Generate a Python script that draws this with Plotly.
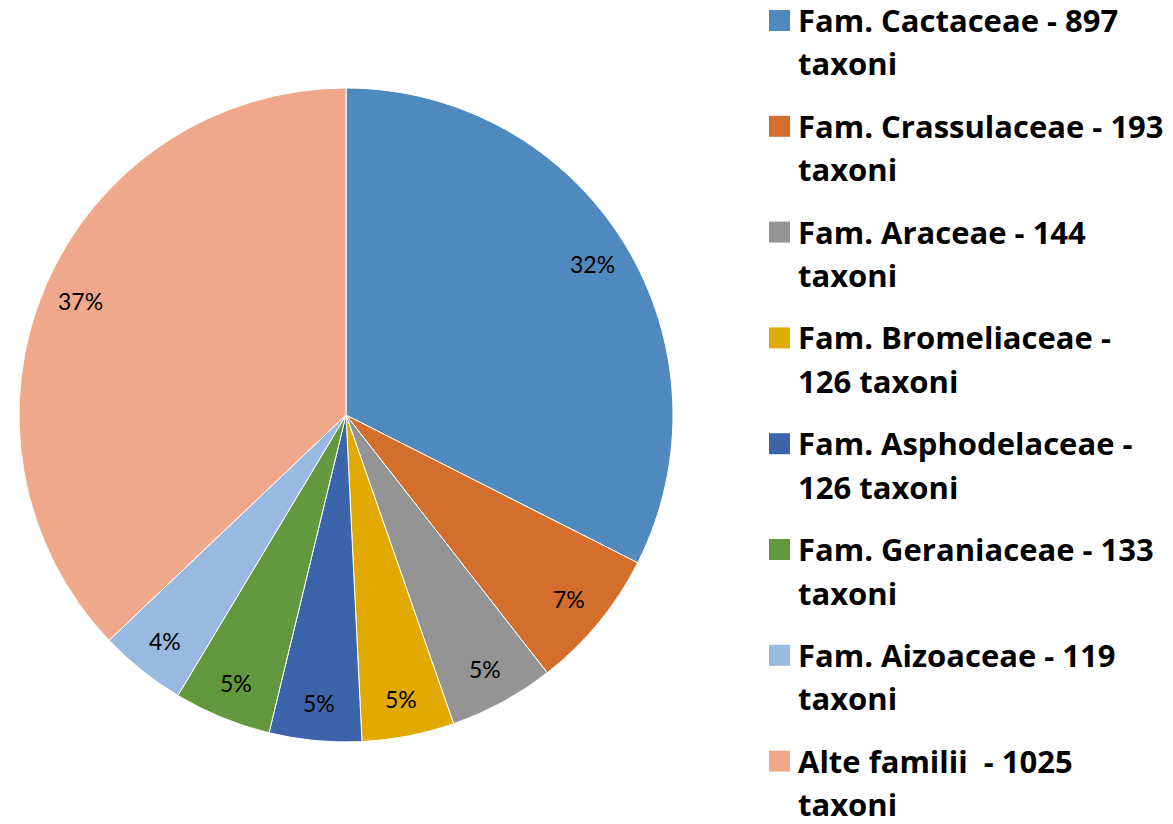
import math
import plotly.graph_objects as go

# ---- data ----
families = ["Fam. Cactaceae", "Fam. Crassulaceae", "Fam. Araceae", "Fam. Bromeliaceae",
            "Fam. Asphodelaceae", "Fam. Geraniaceae", "Fam. Aizoaceae", "Alte familii"]
taxa = [897, 193, 144, 126, 126, 133, 119, 1025]
legend_line1 = ["Fam. Cactaceae - 897", "Fam. Crassulaceae - 193", "Fam. Araceae - 144",
                "Fam. Bromeliaceae -", "Fam. Asphodelaceae -", "Fam. Geraniaceae - 133",
                "Fam. Aizoaceae - 119", "Alte familii  - 1025"]
legend_line2 = ["taxoni", "taxoni", "taxoni", "126 taxoni", "126 taxoni",
                "taxoni", "taxoni", "taxoni"]
colors = ["#4F89BD", "#D36E2C", "#949494", "#E2AA00", "#3C64AB", "#62993E", "#98BAE0", "#F0A88B"]

W, H = 1173, 824
CX, CY, R = 346, 415, 327  # pie centre (px from top-left) and radius

fig = go.Figure(go.Pie(
    labels=families, values=taxa, sort=False, direction="clockwise", rotation=0,
    marker=dict(colors=colors, line=dict(color="white", width=1)),
    textinfo="none", showlegend=False, hoverinfo="label+value+percent",
    domain=dict(x=[(CX - R) / W, (CX + R) / W], y=[(H - CY - R) / H, (H - CY + R) / H]),
))

# percentage labels placed near the outer edge of each slice (computed from data)
total = sum(taxa)
cum = 0
annotations = []
for v in taxa:
    mid = (cum + v / 2) / total
    cum += v
    th = 2 * math.pi * mid
    rl = 0.885 * R
    px = CX + rl * math.sin(th)
    py = CY - rl * math.cos(th)
    annotations.append(dict(
        x=px / W, y=1 - py / H, xref="paper", yref="paper", showarrow=False,
        text=f"{round(100 * v / total)}%", xanchor="center", yanchor="middle",
        font=dict(family="Lato", size=23, color="black")))

# legend drawn as text lines and colour squares
shapes = []
for i, (l1, l2) in enumerate(zip(legend_line1, legend_line2)):
    yc = 20.5 + i * 105.8
    shapes.append(dict(type="rect", xref="paper", yref="paper",
                       x0=769 / W, x1=790 / W, y0=1 - (yc + 10.5) / H, y1=1 - (yc - 10.5) / H,
                       fillcolor=colors[i], line=dict(width=0)))
    for j, t in enumerate([l1, l2]):
        annotations.append(dict(
            x=796 / W, y=1 - (yc - 0.5 + j * 43.5) / H, xref="paper", yref="paper",
            showarrow=False, text=f"<b>{t}</b>", xanchor="left", yanchor="middle",
            font=dict(family="Open Sans", size=31, color="black")))

fig.update_layout(
    width=W, height=H, margin=dict(l=0, r=0, t=0, b=0),
    paper_bgcolor="white", plot_bgcolor="white",
    annotations=annotations, shapes=shapes,
)
fig.write_html("out.html", config={"displayModeBar": False},
               post_script="document.body.style.margin='0';")
